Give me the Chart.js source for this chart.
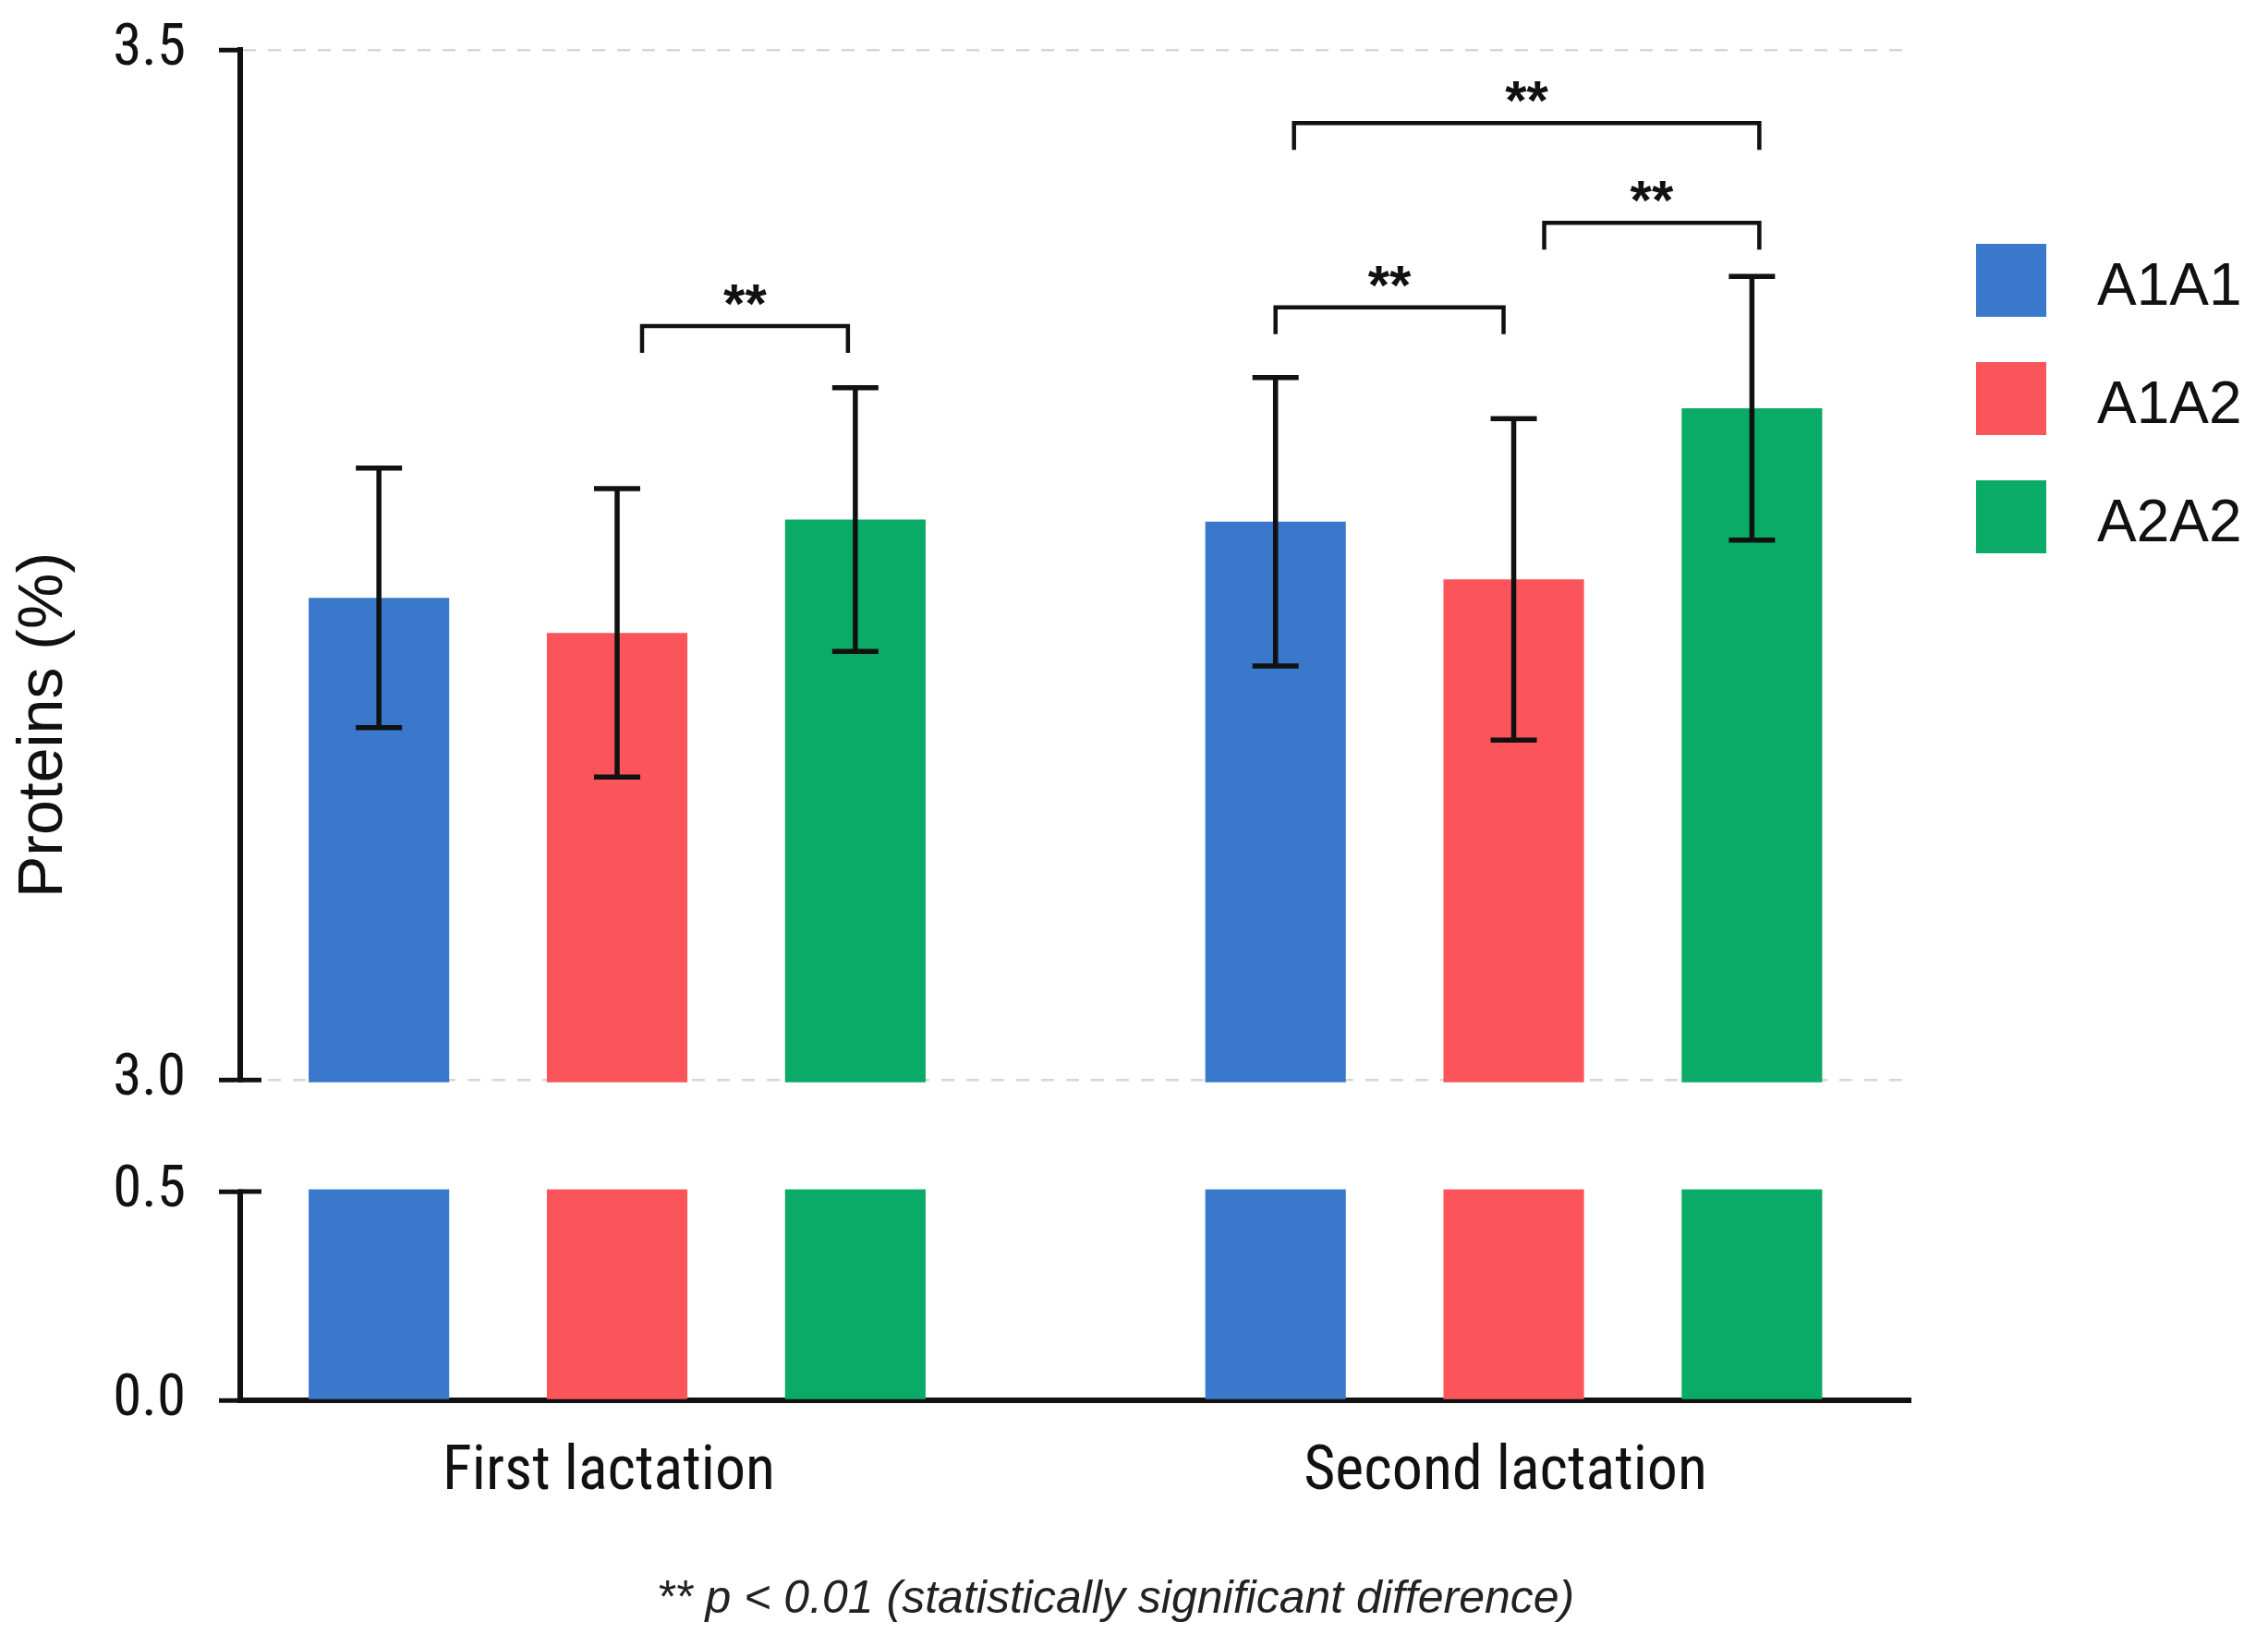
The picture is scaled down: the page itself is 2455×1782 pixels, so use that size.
<!DOCTYPE html>
<html>
<head>
<meta charset="utf-8">
<title>Proteins by genotype and lactation</title>
<script src="https://cdn.jsdelivr.net/npm/chart.js@4.4.1/dist/chart.umd.min.js"></script>
<style>
    html, body { margin: 0; padding: 0; background: #fff; }
    #wrap { position: relative; width: 2455px; height: 1782px; }
    #legend { position: absolute; left: 2139px; top: 264px; font-family: "Liberation Sans", Arial, sans-serif; color: #111; }
    .legend-item { display: flex; align-items: center; height: 79px; margin-bottom: 49px; }
    .legend-box { width: 76px; height: 79px; }
    .legend-text { margin-left: 55px; font-size: 64px; position: relative; top: 4px; }
</style>
</head>
<body>
<div id="wrap">
    <canvas id="proteinChart" width="2455" height="1782"></canvas>
    <div id="legend"></div>
</div>
<script>
// Values
const lactations = ['First lactation', 'Second lactation'];
const genotypes = ['A1A1', 'A1A2', 'A2A2'];
const a1a1Mean = [3.234, 3.271];
const a1a1Err = [0.063, 0.070];
const a1a2Mean = [3.217, 3.243];
const a1a2Err = [0.070, 0.078];
const a2a2Mean = [3.272, 3.326];
const a2a2Err = [0.064, 0.064];
const yTicks = [0, 0.5, 3.0, 3.5];
const axisBreak = [0.5, 3.0];

// Significance brackets: [lactation, from genotype, to genotype]
const sigPairs = [[0, 1, 2], [1, 0, 1], [1, 1, 2], [1, 0, 2]];
const sigLevels = [3.366, 3.375, 3.416, 3.4645];
const sigLabels = ['**', '**', '**', '**'];
const footnote = '** p < 0.01 (statistically significant difference)';

const means = [a1a1Mean, a1a2Mean, a2a2Mean];
const errs = [a1a1Err, a1a2Err, a2a2Err];

// Look
const colors = ['#3a78cb', '#fb545a', '#0aab66'];
const ink = '#111';
const condensed = '"Liberation Sans Narrow", "Roboto Condensed", "DejaVu Sans Condensed", Roboto, sans-serif';
const sans = '"Liberation Sans", Arial, Roboto, sans-serif';
const breakShares = [0.1545, 0.0827]; // axis height share of lower panel and of the gap
const bracketNudge = [[27, -8], [0, -11], [33, 8], [20, 8]];

// Linear scale with a gap between the two panels
class BrokenLinearScale extends Chart.LinearScale {
    getPixelForValue(value) {
        const [lo, hi] = axisBreak;
        const [sLow, sGap] = breakShares;
        const sHigh = 1 - sLow - sGap;
        let dec;
        if (value <= lo) {
            dec = (value - this.min) / (lo - this.min) * sLow;
        } else if (value >= hi) {
            dec = sLow + sGap + (value - hi) / (this.max - hi) * sHigh;
        } else {
            dec = sLow + (value - lo) / (hi - lo) * sGap;
        }
        return this.getPixelForDecimal(dec);
    }

    getValueForPixel(pixel) {
        const [lo, hi] = axisBreak;
        const [sLow, sGap] = breakShares;
        const dec = this.getDecimalForPixel(pixel);
        if (dec <= sLow) return this.min + dec / sLow * (lo - this.min);
        if (dec <= sLow + sGap) return lo + (dec - sLow) / sGap * (hi - lo);
        return hi + (dec - sLow - sGap) / (1 - sLow - sGap) * (this.max - hi);
    }
}
BrokenLinearScale.id = 'brokenLinear';
Chart.register(BrokenLinearScale);

// White out the gap and draw the break caps
const axisBreakPlugin = {
    id: 'axisBreak',
    afterDatasetsDraw(chart) {
        const {ctx, chartArea, scales: {y}} = chart;
        const yHi = y.getPixelForValue(axisBreak[1]);
        const yLo = y.getPixelForValue(axisBreak[0]);
        ctx.save();
        ctx.fillStyle = '#fff';
        ctx.fillRect(chartArea.left - 5, yHi + 2.5, chartArea.right - chartArea.left + 10, yLo - yHi - 5);
        ctx.strokeStyle = ink;
        ctx.lineWidth = 5;
        ctx.beginPath();
        [yHi, yLo].forEach(py => {
            ctx.moveTo(chartArea.left - 3, py);
            ctx.lineTo(chartArea.left + 23, py);
        });
        ctx.stroke();
        ctx.restore();
    }
};

const errorBarPlugin = {
    id: 'errorBars',
    afterDatasetsDraw(chart) {
        const {ctx, scales: {y}} = chart;
        ctx.save();
        ctx.strokeStyle = ink;
        ctx.lineWidth = 5.5;
        means.forEach((series, d) => {
            chart.getDatasetMeta(d).data.forEach((bar, i) => {
                const top = y.getPixelForValue(series[i] + errs[d][i]);
                const bottom = y.getPixelForValue(series[i] - errs[d][i]);
                ctx.beginPath();
                ctx.moveTo(bar.x, top);
                ctx.lineTo(bar.x, bottom);
                ctx.moveTo(bar.x - 25, top);
                ctx.lineTo(bar.x + 25, top);
                ctx.moveTo(bar.x - 25, bottom);
                ctx.lineTo(bar.x + 25, bottom);
                ctx.stroke();
            });
        });
        ctx.restore();
    }
};

const sigPlugin = {
    id: 'sigBrackets',
    afterDatasetsDraw(chart) {
        const {ctx, scales: {y}} = chart;
        ctx.save();
        ctx.strokeStyle = ink;
        ctx.fillStyle = ink;
        ctx.lineWidth = 4.5;
        ctx.font = 'bold 60px ' + sans;
        ctx.textAlign = 'center';
        ctx.textBaseline = 'alphabetic';
        sigPairs.forEach(([cat, from, to], k) => {
            const x1 = chart.getDatasetMeta(from).data[cat].x + bracketNudge[k][0];
            const x2 = chart.getDatasetMeta(to).data[cat].x + bracketNudge[k][1];
            const py = y.getPixelForValue(sigLevels[k]);
            ctx.beginPath();
            ctx.moveTo(x1, py + 29);
            ctx.lineTo(x1, py);
            ctx.lineTo(x2, py);
            ctx.lineTo(x2, py + 29);
            ctx.stroke();
            ctx.fillText(sigLabels[k], (x1 + x2) / 2, py - 4);
        });
        ctx.restore();
    }
};

const footnotePlugin = {
    id: 'footnote',
    afterDraw(chart) {
        const {ctx} = chart;
        ctx.save();
        ctx.font = 'italic 50px ' + sans;
        ctx.fillStyle = '#222';
        ctx.textAlign = 'center';
        ctx.textBaseline = 'middle';
        ctx.fillText(footnote, chart.width / 2 - 20, chart.height - 50);
        ctx.restore();
    }
};

const htmlLegendPlugin = {
    id: 'htmlLegend',
    afterUpdate(chart) {
        const box = document.getElementById('legend');
        box.innerHTML = '';
        chart.options.plugins.legend.labels.generateLabels(chart).forEach(item => {
            const row = document.createElement('div');
            row.className = 'legend-item';
            const swatch = document.createElement('span');
            swatch.className = 'legend-box';
            swatch.style.background = item.fillStyle;
            const text = document.createElement('span');
            text.className = 'legend-text';
            text.textContent = item.text;
            row.append(swatch, text);
            box.appendChild(row);
        });
    }
};

const chart = new Chart(document.getElementById('proteinChart'), {
    type: 'bar',
    data: {
        datasets: genotypes.map((g, d) => ({
            label: g,
            data: lactations.map((l, i) => ({x: i, y: means[d][i]})),
            backgroundColor: colors[d],
            borderWidth: 0,
            categoryPercentage: 0.797,
            barPercentage: 0.59
        }))
    },
    options: {
        responsive: false,
        animation: false,
        events: [],
        layout: {
            padding: {top: 54, right: 387, bottom: 116, left: 0}
        },
        plugins: {
            legend: {display: false},
            tooltip: {enabled: false}
        },
        scales: {
            x: {
                type: 'linear',
                min: -0.4204,
                max: 1.4425,
                offset: false,
                grid: {display: false, drawTicks: false, offset: false},
                border: {display: true, color: ink, width: 6},
                afterBuildTicks: s => { s.ticks = lactations.map((l, i) => ({value: i})); },
                afterFit: s => { s.height = 150; },
                ticks: {
                    callback: v => lactations[v],
                    color: ink,
                    font: {family: condensed, size: 66},
                    padding: 40,
                    labelOffset: -9,
                    autoSkip: false,
                    maxRotation: 0
                }
            },
            y: {
                type: 'brokenLinear',
                min: 0,
                max: 3.5,
                afterBuildTicks: s => { s.ticks = yTicks.map(v => ({value: v})); },
                afterFit: s => {
                    s.width = 260;
                    s.paddingTop = 0;
                    s.paddingBottom = 0;
                },
                grid: {
                    color: c => (c.tick && c.tick.value >= axisBreak[1]) ? '#d6d6d6' : 'rgba(0,0,0,0)',
                    lineWidth: 2.5,
                    tickColor: ink,
                    tickLength: 23,
                    tickWidth: 5
                },
                border: {display: true, color: ink, width: 6, dash: [14, 13]},
                ticks: {
                    callback: v => v.toFixed(1),
                    color: ink,
                    font: {family: condensed, size: 63},
                    padding: 36,
                    autoSkip: false
                },
                title: {
                    display: true,
                    text: 'Proteins (%)',
                    color: ink,
                    font: {family: sans, size: 68},
                    padding: {top: 7, bottom: 0}
                }
            }
        }
    },
    plugins: [axisBreakPlugin, errorBarPlugin, sigPlugin, footnotePlugin, htmlLegendPlugin]
});
</script>
</body>
</html>
